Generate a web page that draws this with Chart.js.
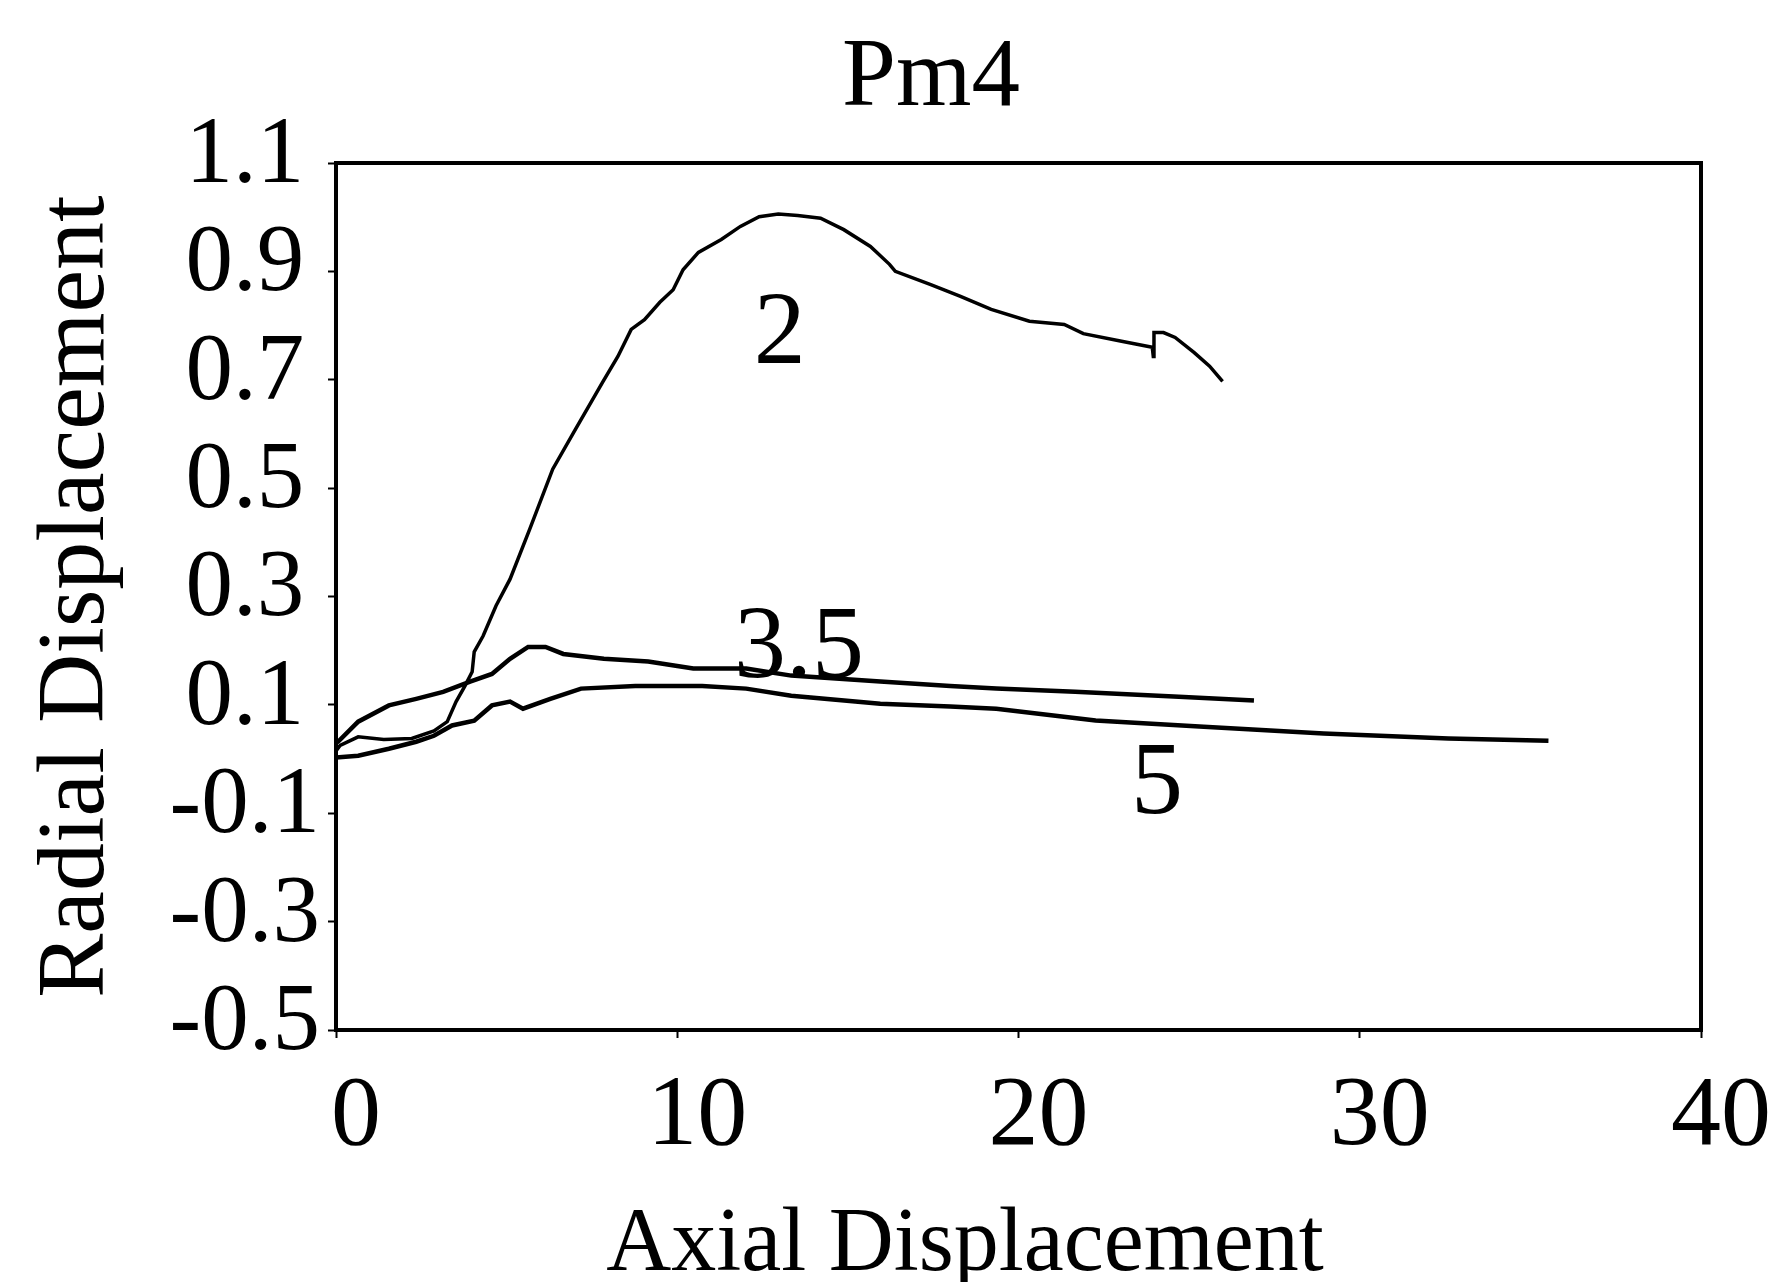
<!DOCTYPE html>
<html>
<head>
<meta charset="utf-8">
<title>Pm4</title>
<script src="https://cdn.jsdelivr.net/npm/chart.js@4.4.0/dist/chart.umd.min.js"></script>
<style>
  html, body { margin: 0; padding: 0; background: #fff; }
  canvas { display: block; }
</style>
</head>
<body>
<canvas id="chart" width="1775" height="1282"></canvas>
<script>
// tick labels
const axialTicks = [0, 10, 20, 30, 40];
const radialTicks = [-0.5, -0.3, -0.1, 0.1, 0.3, 0.5, 0.7, 0.9, 1.1];

// curve "2"
const curve2X = [0, 0.12, 0.65, 1.4, 2.22, 2.87, 3.26, 3.52, 3.78, 3.99, 4.05, 4.31, 4.69, 5.1,
  5.68, 6.35, 7.02, 7.81, 8.26, 8.65, 9.04, 9.49, 9.88, 10.17, 10.62, 11.29, 11.85, 12.4,
  12.96, 13.53, 14.2, 14.88, 15.66, 16.22, 16.39, 17.41, 18.3, 19.2, 20.32, 21.34, 21.9,
  23.02, 23.92, 23.95, 23.97, 24.25, 24.59, 25.15, 25.6, 25.98];
const curve2Y = [0.015, 0.025, 0.041, 0.036, 0.038, 0.052, 0.069, 0.106, 0.135, 0.161, 0.198, 0.227, 0.283, 0.332,
  0.425, 0.535, 0.609, 0.695, 0.743, 0.793, 0.811, 0.843, 0.866, 0.903, 0.935, 0.959, 0.983, 1.001,
  1.006, 1.003, 0.998, 0.977, 0.946, 0.913, 0.9, 0.876, 0.854, 0.83, 0.808, 0.802, 0.785,
  0.771, 0.76, 0.743, 0.787, 0.787, 0.778, 0.75, 0.725, 0.697];

// curve "3.5"
const curve35X = [0, 0.06, 0.65, 1.55, 2.35, 3.14, 3.93, 4.57, 5.1, 5.63, 6.14, 6.66, 7.85, 9.15,
  10.47, 12.02, 13.34, 15.95, 18.0, 19.35, 21.66, 24.7, 26.9];
const curve35Y = [0.03, 0.032, 0.069, 0.099, 0.111, 0.124, 0.143, 0.157, 0.185, 0.207, 0.207, 0.194, 0.185, 0.18,
  0.167, 0.167, 0.154, 0.143, 0.135, 0.13, 0.124, 0.115, 0.108];

// curve "5"
const curve5X = [0, 0.65, 1.55, 2.35, 2.87, 3.4, 4.05, 4.57, 5.1, 5.48, 6.28, 7.18, 8.77, 10.73,
  12.02, 13.34, 15.95, 18.0, 19.35, 22.26, 25.3, 28.94, 32.6, 35.53];
const curve5Y = [0.003, 0.006, 0.019, 0.032, 0.043, 0.062, 0.071, 0.099, 0.106, 0.093, 0.111, 0.13, 0.135, 0.135,
  0.13, 0.117, 0.102, 0.097, 0.093, 0.071, 0.06, 0.047, 0.038, 0.034];

// curve labels placed in data units
const curveLabels = [
  { text: '2', x: 13.0, y: 0.73 },
  { text: '3.5', x: 13.57, y: 0.151 },
  { text: '5', x: 24.06, y: -0.1 }
];

const serif = '"Liberation Serif", "Times New Roman", serif';
const toPoints = (xs, ys) => xs.map((x, i) => ({ x, y: ys[i] }));

// frame, title, x axis title and curve labels
const plotText = {
  id: 'plotText',
  afterDraw(chart) {
    const { ctx, chartArea: a, scales: { x, y } } = chart;
    ctx.save();
    ctx.strokeStyle = '#000';
    ctx.lineWidth = 4;
    ctx.strokeRect(a.left, a.top, a.right - a.left, a.bottom - a.top);

    ctx.fillStyle = '#000';
    ctx.textAlign = 'center';
    ctx.textBaseline = 'alphabetic';
    ctx.font = '97px ' + serif;
    ctx.fillText('Pm4', 931, 105);

    ctx.font = '90px ' + serif;
    ctx.fillText('Axial Displacement', 965, 1270);

    ctx.font = '104px ' + serif;
    curveLabels.forEach(l => {
      ctx.fillText(l.text, x.getPixelForValue(l.x), y.getPixelForValue(l.y));
    });
    ctx.restore();
  }
};

new Chart(document.getElementById('chart'), {
  type: 'line',
  data: {
    datasets: [
      { label: '2', data: toPoints(curve2X, curve2Y), borderWidth: 3.5 },
      { label: '3.5', data: toPoints(curve35X, curve35Y), borderWidth: 4.5 },
      { label: '5', data: toPoints(curve5X, curve5Y), borderWidth: 4.5 }
    ]
  },
  options: {
    responsive: false,
    animation: false,
    layout: { padding: { top: 163, right: 74, left: 0, bottom: 0 } },
    elements: {
      line: { borderColor: '#000', tension: 0, fill: false },
      point: { radius: 0 }
    },
    plugins: { legend: { display: false }, tooltip: { enabled: false } },
    scales: {
      x: {
        type: 'linear',
        min: 0,
        max: 40,
        afterBuildTicks: s => { s.ticks = axialTicks.map(v => ({ value: v })); },
        afterFit: s => { s.height = 252; },
        grid: { drawOnChartArea: false, tickLength: 8, tickWidth: 2, color: '#000' },
        border: { color: '#000', width: 4 },
        ticks: {
          font: { family: serif, size: 100 }, color: '#000',
          padding: 20, labelOffset: 20, maxRotation: 0, autoSkip: false
        }
      },
      y: {
        type: 'linear',
        min: -0.5,
        max: 1.1,
        afterBuildTicks: s => { s.ticks = radialTicks.map(v => ({ value: v })); },
        afterFit: s => { s.width = 336; },
        grid: { drawOnChartArea: false, tickLength: 8, tickWidth: 2, color: '#000' },
        border: { color: '#000', width: 4 },
        ticks: {
          font: { family: serif, size: 95 }, color: '#000',
          padding: 8, labelOffset: -6, crossAlign: 'center', autoSkip: false,
          callback: v => v.toFixed(1)
        },
        title: {
          display: true,
          text: 'Radial Displacement',
          color: '#000',
          font: { family: serif, size: 96, lineHeight: 1 },
          padding: { top: 30, bottom: 0 }
        }
      }
    }
  },
  plugins: [plotText]
});
</script>
</body>
</html>
